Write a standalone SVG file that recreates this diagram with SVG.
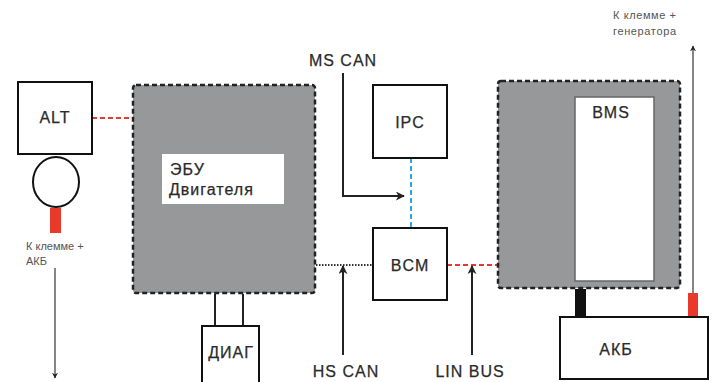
<svg xmlns="http://www.w3.org/2000/svg" width="714" height="382" viewBox="0 0 714 382">
<style>
text{font-family:"Liberation Sans",Arial,sans-serif;fill:#2a2a2a}
.lbl{font-size:16px;letter-spacing:1px;stroke:#2a2a2a;stroke-width:0.25}
.sm{font-size:11px;fill:#555}
.box{fill:#fff;stroke:#111;stroke-width:2}
.ecu{fill:#97989a;stroke:#222;stroke-width:2.5;stroke-dasharray:5 3}
.ln{stroke:#222;stroke-width:2;fill:none}
.thin{stroke:#444;stroke-width:1.3;fill:none}
</style>
<defs>
<marker id="ah" viewBox="0 0 10 10" refX="9" refY="5" markerWidth="6" markerHeight="6" orient="auto-start-reverse" markerUnits="userSpaceOnUse"><path d="M0,0 L10,5 L0,10 L3,5 z" fill="#222"/></marker>
<marker id="ahb" viewBox="0 0 10 10" refX="9" refY="5" markerWidth="9" markerHeight="9" orient="auto" markerUnits="userSpaceOnUse"><path d="M0,0 L10,5 L0,10 L3,5 z" fill="#222"/></marker>
</defs>
<g id="connectors">
<line x1="92" y1="118" x2="133" y2="118" stroke="#e8392b" stroke-width="2" stroke-dasharray="5 3"/>
<line x1="55" y1="268" x2="55" y2="378" class="thin" marker-end="url(#ah)"/>
<line x1="215" y1="294" x2="215" y2="326" class="ln"/>
<line x1="243" y1="294" x2="243" y2="326" class="ln"/>
<line x1="411" y1="158" x2="411" y2="228" stroke="#2aa8e0" stroke-width="2" stroke-dasharray="5 3"/>
<polyline points="343,73 343,196 404,196" class="ln" marker-end="url(#ahb)"/>
<line x1="316" y1="265" x2="373" y2="265" stroke="#333" stroke-width="2" stroke-dasharray="1.5 1.5"/>
<line x1="343" y1="355" x2="343" y2="266" class="ln" marker-end="url(#ahb)"/>
<line x1="447" y1="265" x2="498" y2="265" stroke="#e8392b" stroke-width="2" stroke-dasharray="5 3"/>
<line x1="472" y1="355" x2="472" y2="266" class="ln" marker-end="url(#ahb)"/>
<line x1="693" y1="293" x2="693" y2="46" class="thin" marker-end="url(#ah)"/>
<rect x="50" y="208" width="11" height="25" fill="#e8392b"/>
<rect x="575" y="289" width="11" height="28" fill="#111"/>
<rect x="688" y="293" width="10" height="24" fill="#e8392b"/>
</g>
<g id="alt">
<rect x="18" y="82" width="74" height="72" class="box"/>
<text x="55" y="123" class="lbl" text-anchor="middle">ALT</text>
</g>
<g id="alt-pulley">
<ellipse cx="56" cy="182" rx="23" ry="25" class="box"/>
</g>
<g id="alt-label">
<text x="26" y="250" class="sm">К клемме +</text>
<text x="26" y="265" class="sm">АКБ</text>
</g>
<g id="ecu">
<rect x="133" y="85" width="182" height="208" rx="3" class="ecu"/>
<rect x="162" y="154" width="122" height="50" fill="#fff"/>
<text x="170" y="175" class="lbl">ЭБУ</text>
<text x="169" y="195" class="lbl">Двигателя</text>
</g>
<g id="diag">
<rect x="202" y="326" width="57" height="60" class="box"/>
<text x="231" y="358" class="lbl" text-anchor="middle">ДИАГ</text>
</g>
<g id="ms-can"><text x="343" y="66" class="lbl" text-anchor="middle">MS CAN</text></g>
<g id="ipc">
<rect x="373" y="85" width="74" height="73" class="box"/>
<text x="410" y="128" class="lbl" text-anchor="middle">IPC</text>
</g>
<g id="bcm">
<rect x="373" y="228" width="74" height="72" class="box"/>
<text x="410" y="271" class="lbl" text-anchor="middle">BCM</text>
</g>
<g id="hs-can"><text x="346" y="377" class="lbl" text-anchor="middle">HS CAN</text></g>
<g id="lin-bus"><text x="470" y="377" class="lbl" text-anchor="middle">LIN BUS</text></g>
<g id="bms">
<rect x="498" y="81" width="182" height="207" rx="3" class="ecu"/>
<rect x="575" y="97" width="79" height="184" fill="#fff" stroke="#666" stroke-width="1.5"/>
<text x="611" y="118" class="lbl" text-anchor="middle">BMS</text>
</g>
<g id="akb">
<rect x="560" y="317" width="148" height="62" class="box"/>
<text x="616" y="355" class="lbl" text-anchor="middle">АКБ</text>
</g>
<g id="gen-label">
<text x="613" y="19" class="sm" textLength="63">К клемме +</text>
<text x="613" y="35" class="sm" textLength="63">генератора</text>
</g>
</svg>
